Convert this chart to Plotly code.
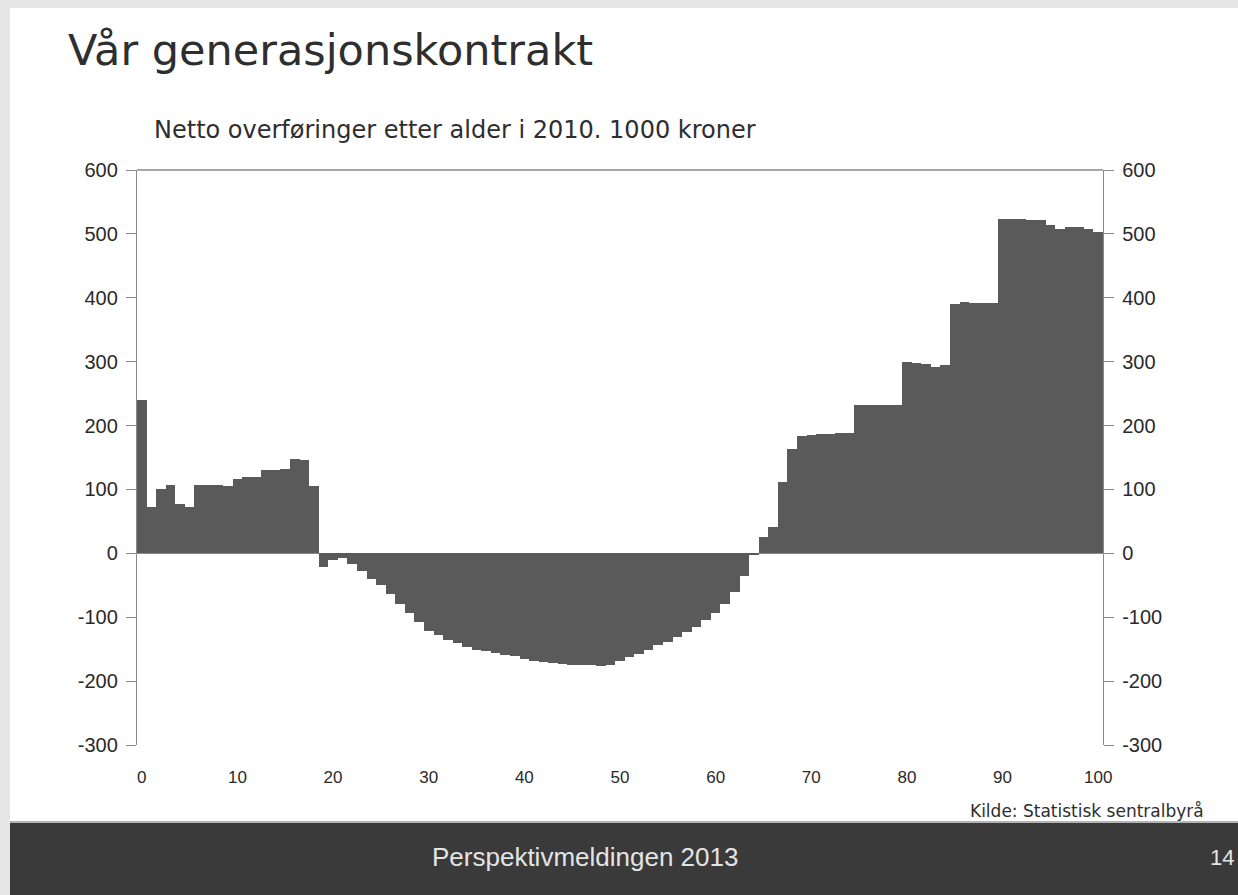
import plotly.graph_objects as go

# ---- data ----
ages = list(range(0, 101))
net_transfers = [
    240, 73, 100, 107, 77, 73, 107, 107, 107, 105,          # 0-9
    116, 120, 120, 131, 131, 132, 147, 146, 105, -21,       # 10-19
    -11, -8, -16, -27, -40, -50, -63, -79, -94, -108,       # 20-29
    -121, -128, -136, -141, -147, -152, -153, -156, -159, -161,  # 30-39
    -165, -168, -170, -172, -173, -174, -174, -175, -176, -175,  # 40-49
    -168, -163, -157, -152, -144, -139, -131, -123, -115, -105,  # 50-59
    -94, -79, -61, -35, -2, 25, 41, 112, 164, 184,          # 60-69
    185, 187, 187, 188, 188, 232, 232, 232, 232, 232,       # 70-79
    299, 298, 297, 292, 295, 390, 394, 392, 392, 392,       # 80-89
    524, 524, 523, 521, 521, 514, 507, 511, 511, 508,       # 90-99
    503,                                                    # 100
]
x_ticks = list(range(0, 101, 10))
y_ticks = list(range(-300, 601, 100))
y_tick_labels = [str(v) for v in y_ticks]

title_text = "Vår generasjonskontrakt"
subtitle_text = "Netto overføringer etter alder i 2010. 1000 kroner"
source_text = "Kilde: Statistisk sentralbyrå"
footer_text = "Perspektivmeldingen 2013"
page_text = "14"

# ---- layout geometry ----
W, H = 1238, 895
L, R, T, B = 137, 1103, 170, 745


def px(x):
    return (x - L) / (R - L)


def py(y):
    return (B - y) / (B - T)


fig = go.Figure()
fig.add_trace(go.Bar(
    x=ages, y=net_transfers, width=1.0,
    marker=dict(color="#5a5a5a", line=dict(width=0)),
    hoverinfo="x+y", showlegend=False,
))
# invisible companion trace so the right-hand axis is drawn
fig.add_trace(go.Scatter(
    x=ages, y=net_transfers, yaxis="y2", mode="markers",
    marker=dict(opacity=0), hoverinfo="skip", showlegend=False,
))

axis_col = "#8a8a8a"
tick_font = dict(family="Liberation Sans, Arial, sans-serif", size=20, color="#2a2a2a")

fig.update_layout(
    width=W, height=H,
    margin=dict(l=L, r=W - R, t=T, b=H - B, pad=0),
    paper_bgcolor="white", plot_bgcolor="white",
    bargap=0,
    xaxis=dict(
        range=[-0.5, 100.5], tickvals=x_ticks, ticks="", showline=False,
        showgrid=False, zeroline=False, tickfont=dict(tick_font, size=17),
        ticklabelstandoff=20, fixedrange=True,
    ),
    yaxis=dict(
        range=[-300, 600], tickvals=y_ticks, ticktext=y_tick_labels,
        showline=True, linecolor=axis_col,
        linewidth=1.3, ticks="outside", ticklen=10, tickcolor=axis_col, tickwidth=1.3,
        showgrid=False, zeroline=True, zerolinecolor=axis_col, zerolinewidth=1.3,
        tickfont=tick_font, ticklabelstandoff=4, fixedrange=True,
    ),
    yaxis2=dict(
        range=[-300, 600], tickvals=y_ticks, ticktext=y_tick_labels,
        overlaying="y", side="right",
        showline=True, linecolor=axis_col, linewidth=1.3, ticks="outside",
        ticklen=10, tickcolor=axis_col, tickwidth=1.3, showgrid=False,
        zeroline=False, tickfont=tick_font, ticklabelstandoff=4, fixedrange=True,
    ),
)

shapes = [
    # light grey slide surround
    dict(type="rect", xref="paper", yref="paper", x0=px(0), x1=px(10), y0=py(H), y1=py(0),
         fillcolor="#e6e6e6", line=dict(width=0), layer="below"),
    dict(type="rect", xref="paper", yref="paper", x0=px(0), x1=px(W), y0=py(8), y1=py(0),
         fillcolor="#e6e6e6", line=dict(width=0), layer="below"),
    # top border of plot area
    dict(type="line", xref="paper", yref="paper", x0=0, x1=1, y0=1, y1=1,
         line=dict(color=axis_col, width=1.3)),
    # footer band
    dict(type="rect", xref="paper", yref="paper", x0=px(10), x1=px(W), y0=py(H), y1=py(823),
         fillcolor="#3a3a3a", line=dict(width=0), layer="above"),
    dict(type="line", xref="paper", yref="paper", x0=px(10), x1=px(W), y0=py(822), y1=py(822),
         line=dict(color="#9a9a9a", width=1.5)),
]
fig.update_layout(shapes=shapes)

annotations = [
    dict(text=title_text, x=px(66), y=py(50), xref="paper", yref="paper",
         xanchor="left", yanchor="middle", showarrow=False,
         font=dict(family="DejaVu Sans, Verdana, sans-serif", size=43, color="#2e2e2e")),
    dict(text=subtitle_text, x=px(152), y=py(130), xref="paper", yref="paper",
         xanchor="left", yanchor="middle", showarrow=False,
         font=dict(family="DejaVu Sans, Verdana, sans-serif", size=24, color="#2e2e2e")),
    dict(text=source_text, x=px(968), y=py(811), xref="paper", yref="paper",
         xanchor="left", yanchor="middle", showarrow=False,
         font=dict(family="DejaVu Sans, Verdana, sans-serif", size=17, color="#2e2e2e")),
    dict(text=footer_text, x=px(585), y=py(857), xref="paper", yref="paper",
         xanchor="center", yanchor="middle", showarrow=False,
         font=dict(family="Liberation Sans, Arial, sans-serif", size=26, color="#e4e4e4")),
    dict(text=page_text, x=px(1222), y=py(857), xref="paper", yref="paper",
         xanchor="center", yanchor="middle", showarrow=False,
         font=dict(family="Liberation Sans, Arial, sans-serif", size=22, color="#e4e4e4")),
]
fig.update_layout(annotations=annotations)

fig.write_html(
    "out.html",
    config=dict(displayModeBar=False),
    post_script="document.body.style.margin='0';document.body.style.overflow='hidden';",
)
